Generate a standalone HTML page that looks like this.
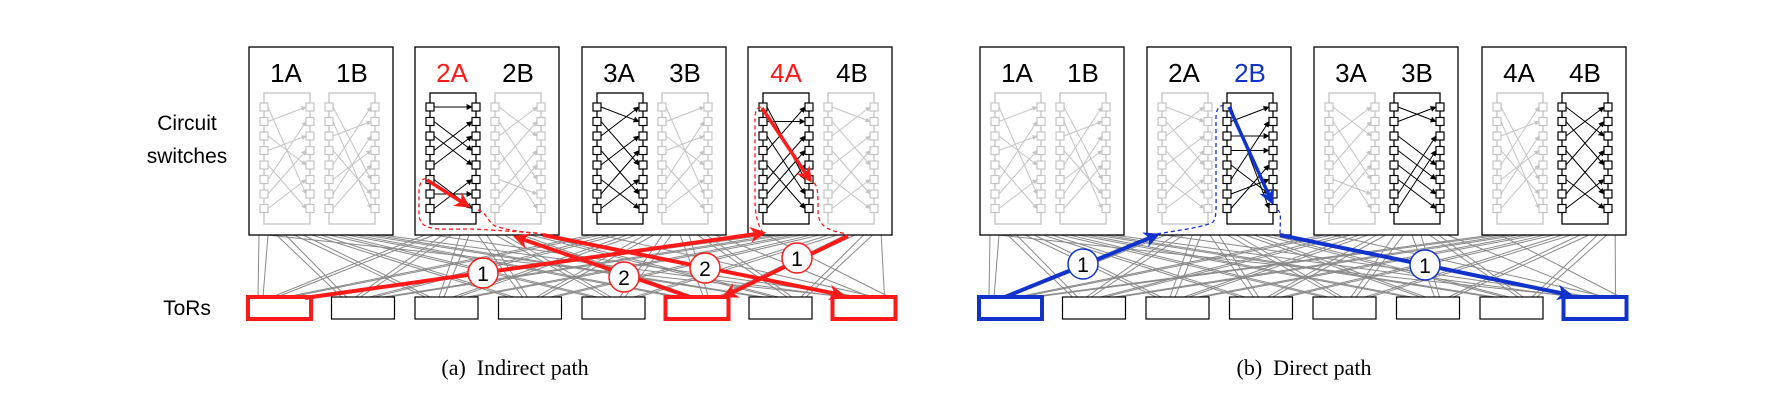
<!DOCTYPE html>
<html><head><meta charset="utf-8"><style>
html,body{margin:0;padding:0;background:#fff;}
svg{display:block;}
.lab{font-family:"Liberation Sans",sans-serif;font-size:26px;text-anchor:middle;}
.side{font-family:"Liberation Sans",sans-serif;font-size:21px;text-anchor:middle;}
.cap{font-family:"Liberation Serif",serif;font-size:22px;text-anchor:middle;white-space:pre;}
.num{font-family:"Liberation Sans",sans-serif;font-size:21px;text-anchor:middle;}
</style></head><body>
<svg id="s" width="1778" height="402" viewBox="0 0 1778 402" xmlns="http://www.w3.org/2000/svg">
<defs>
<marker id="ag" viewBox="0 0 10 10" refX="9" refY="5" markerWidth="5" markerHeight="5" orient="auto" markerUnits="userSpaceOnUse"><path d="M0,0L10,5L0,10z" fill="#c4c4c4"/></marker>
<marker id="ak" viewBox="0 0 10 10" refX="9" refY="5" markerWidth="6" markerHeight="6" orient="auto" markerUnits="userSpaceOnUse"><path d="M0,0L10,5L0,10z" fill="#000"/></marker>
<marker id="ar" viewBox="0 0 10 10" refX="8" refY="5" markerWidth="16" markerHeight="16" orient="auto" markerUnits="userSpaceOnUse"><path d="M0,0L10,5L0,10L3,5z" fill="#ff1a1a"/></marker>
<marker id="ab" viewBox="0 0 10 10" refX="8" refY="5" markerWidth="16" markerHeight="16" orient="auto" markerUnits="userSpaceOnUse"><path d="M0,0L10,5L0,10L3,5z" fill="#1133cc"/></marker>
</defs>
<g id="mesh"></g>
<g id="boxes"></g>
<text class="side" x="187" y="130">Circuit</text>
<text class="side" x="187" y="163">switches</text>
<text class="side" x="187" y="315">ToRs</text>
<text class="lab" x="286" y="82">1A</text><text class="lab" x="352" y="82">1B</text>
<text class="lab" x="452" y="82" fill="#ff1a1a">2A</text><text class="lab" x="518" y="82">2B</text>
<text class="lab" x="619" y="82">3A</text><text class="lab" x="685" y="82">3B</text>
<text class="lab" x="786" y="82" fill="#ff1a1a">4A</text><text class="lab" x="852" y="82">4B</text>
<text class="lab" x="1017" y="82">1A</text><text class="lab" x="1083" y="82">1B</text>
<text class="lab" x="1184" y="82">2A</text><text class="lab" x="1250" y="82" fill="#1133cc">2B</text>
<text class="lab" x="1351" y="82">3A</text><text class="lab" x="1417" y="82">3B</text>
<text class="lab" x="1519" y="82">4A</text><text class="lab" x="1585" y="82">4B</text>
<text class="cap" x="515" y="375">(a)&#160;&#160;Indirect path</text>
<text class="cap" x="1304" y="375">(b)&#160;&#160;Direct path</text>
<g id="paths" fill="none">
<path d="M305,298 L763,233" stroke="#ff1a1a" stroke-width="4" marker-end="url(#ar)"/>
<path d="M763,233 C758,225 755,215 755,200 L755,118 C755,110 758,107 761,107" stroke="#ff1a1a" stroke-width="1.3" stroke-dasharray="4,3"/>
<path d="M762,108 L810,180" stroke="#ff1a1a" stroke-width="3.5" marker-end="url(#ar)"/>
<path d="M814,183 C818,186 818,195 818,210 C818,225 825,230 847,234" stroke="#ff1a1a" stroke-width="1.3" stroke-dasharray="4,3"/>
<path d="M848,236 L725,296" stroke="#ff1a1a" stroke-width="4" marker-end="url(#ar)"/>
<path d="M690,297 L516,237" stroke="#ff1a1a" stroke-width="4" marker-end="url(#ar)"/>
<path d="M537,233 C520,232 495,230 470,229 C440,229 420,232 419,215 L419,190 C420,180 424,178 426,179" stroke="#ff1a1a" stroke-width="1.3" stroke-dasharray="4,3"/>
<path d="M427,180 L468,206" stroke="#ff1a1a" stroke-width="3.5" marker-end="url(#ar)"/>
<path d="M478,210 C486,212 488,222 495,226 C510,231 525,232 543,234" stroke="#ff1a1a" stroke-width="1.3" stroke-dasharray="4,3"/>
<path d="M543,235 L842,295" stroke="#ff1a1a" stroke-width="4" marker-end="url(#ar)"/>
<path d="M1005,297 L1157,235" stroke="#1133cc" stroke-width="4" marker-end="url(#ab)"/>
<path d="M1157,234 C1180,230 1205,227 1213,222 C1217,218 1216,205 1216,190 L1216,118 C1216,108 1220,105 1226,105" stroke="#1133cc" stroke-width="1.3" stroke-dasharray="4,3"/>
<path d="M1229,107 L1272,202" stroke="#1133cc" stroke-width="3.5" marker-end="url(#ab)"/>
<path d="M1277,210 C1282,211 1280,220 1280,235" stroke="#1133cc" stroke-width="1.3" stroke-dasharray="4,3"/>
<path d="M1280,235 L1570,295" stroke="#1133cc" stroke-width="4" marker-end="url(#ab)"/>
</g>
<g id="circ">
<circle cx="483" cy="273" r="15" fill="#fff" stroke="#ff1a1a" stroke-width="1.5"/><text class="num" x="483" y="281">1</text>
<circle cx="624" cy="277" r="15" fill="#fff" stroke="#ff1a1a" stroke-width="1.5"/><text class="num" x="624" y="285">2</text>
<circle cx="705" cy="268" r="15" fill="#fff" stroke="#ff1a1a" stroke-width="1.5"/><text class="num" x="705" y="276">2</text>
<circle cx="797" cy="258" r="15" fill="#fff" stroke="#ff1a1a" stroke-width="1.5"/><text class="num" x="797" y="266">1</text>
<circle cx="1083" cy="264" r="15" fill="#fff" stroke="#1133cc" stroke-width="1.5"/><text class="num" x="1083" y="272">1</text>
<circle cx="1425" cy="265" r="15" fill="#fff" stroke="#1133cc" stroke-width="1.5"/><text class="num" x="1425" y="273">1</text>
</g>
</svg>
<script>
var NS="http://www.w3.org/2000/svg";
function el(p,t,a){var e=document.createElementNS(NS,t);for(var k in a)e.setAttribute(k,a[k]);p.appendChild(e);return e;}
var mesh=document.getElementById('mesh'),boxes=document.getElementById('boxes');
var panels=[{bx:[249,415,582,748],tx:248,red:{0:'#ff1a1a',5:'#ff1a1a',7:'#ff1a1a'},act:[[0,0],[1,0],[1,0],[1,0]]},
            {bx:[980,1147,1314,1482],tx:979,red:{0:'#1133cc',7:'#1133cc'},act:[[0,0],[0,1],[0,1],[0,1]]}];
var perms={g1:[6,0,4,2,7,1,3,5],g2:[5,7,1,6,0,3,2,4],g3:[1,4,0,6,2,7,3,5],g4:[2,5,0,7,1,6,3,4]};
var pa=[[perms.g1,perms.g2],[[0,3,4,1,2,7,6,5],perms.g4],[[1,4,0,6,2,7,3,5],perms.g1],[[5,1,6,0,7,2,3,4],perms.g3]];
var pb=[[perms.g1,perms.g2],[perms.g3,[7,0,2,3,6,1,5,4]],[perms.g4,[1,0,4,5,6,7,2,3]],[perms.g2,[2,4,0,6,1,7,3,5]]];
panels.forEach(function(P,pi){
  for(var i=0;i<4;i++)for(var j=0;j<8;j++)for(var s=0;s<2;s++){
    var x1=P.bx[i]+10+j*17.6+s*7, x2=P.tx+j*83.5+10+i*14+s*5;
    if(s==1){x1=P.bx[i]+10+(7-j)*17.6*0+ (j*17.6+9)%124; }
    el(mesh,'line',{x1:x1,y1:235,x2:x2,y2:297,stroke:'#8a8a8a','stroke-width':1});
  }
  for(var j=0;j<8;j++){var c=P.red[j];
    el(boxes,'rect',{x:P.tx+j*83.5,y:297,width:63,height:22,fill:'#fff',stroke:c||'#000','stroke-width':c?4:1.2});}
  for(var i=0;i<4;i++){var bx=P.bx[i];
    el(boxes,'rect',{x:bx,y:47,width:144,height:188,fill:'#fff',stroke:'#000','stroke-width':1.3});
    var sw=[[15,61],[80,126]];
    for(var s=0;s<2;s++){
      var on=P.act[i][s], col=on?'#000':'#c4c4c4', L=bx+sw[s][0], R=bx+sw[s][1];
      var perm=(pi==0?pa:pb)[i][s];
      el(boxes,'rect',{x:L,y:93,width:R-L,height:131,fill:'none',stroke:col,'stroke-width':1.3});
      for(var k=0;k<8;k++){var y1=107+14.5*k,y2=107+14.5*perm[k];
        el(boxes,'line',{x1:L+4,y1:y1,x2:R-4,y2:y2,stroke:col,'stroke-width':1,'marker-end':on?'url(#ak)':'url(#ag)'});}
      for(var k=0;k<8;k++){var y=107+14.5*k-4;
        el(boxes,'rect',{x:L-4,y:y,width:8,height:8,fill:'#fff',stroke:col,'stroke-width':1.2});
        el(boxes,'rect',{x:R-4,y:y,width:8,height:8,fill:'#fff',stroke:col,'stroke-width':1.2});}
    }
  }
});
</script>
</body></html>
